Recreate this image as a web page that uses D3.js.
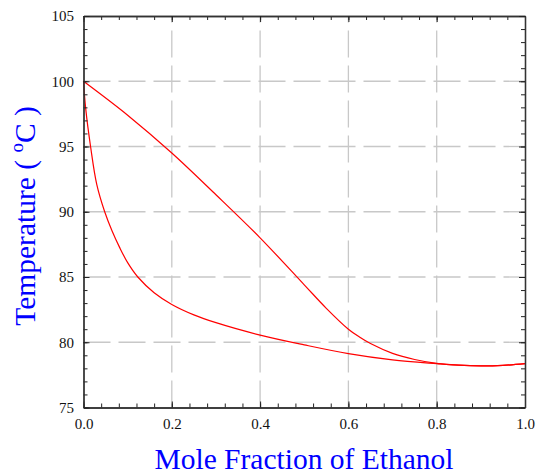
<!DOCTYPE html>
<html>
<head>
<meta charset="utf-8">
<script src="https://cdn.jsdelivr.net/npm/d3@7"></script>
<style>
  html, body { margin: 0; padding: 0; background: #ffffff; }
  svg { display: block; }
  svg text { font-family: "Liberation Serif", "Times New Roman", Times, "DejaVu Serif", serif; }
</style>
</head>
<body>
<script>
// ---- data ----
const xTicks = [0.0, 0.2, 0.4, 0.6, 0.8, 1.0];
const yTicks = [75, 80, 85, 90, 95, 100, 105];
const xTickLabels = ["0.0", "0.2", "0.4", "0.6", "0.8", "1.0"];
const yTickLabels = ["75", "80", "85", "90", "95", "100", "105"];

// bubble-point (liquid) curve
const liquidX = [0.0, 0.005, 0.016, 0.03, 0.048, 0.065, 0.082, 0.1, 0.123, 0.16, 0.2, 0.25, 0.3, 0.4, 0.5, 0.6, 0.7, 0.8, 0.85, 0.9, 0.95, 1.0];
const liquidT = [100.0, 97.9, 95.0, 92.1, 90.0, 88.5, 87.25, 86.1, 85.0, 83.8, 82.9, 82.1, 81.5, 80.55, 79.8, 79.13, 78.65, 78.36, 78.24, 78.19, 78.23, 78.36];

// dew-point (vapour) curve
const vaporX = [0.0, 0.1, 0.2, 0.3, 0.4, 0.5, 0.55, 0.6, 0.625, 0.65, 0.7, 0.75, 0.8, 0.85, 0.9, 0.95, 1.0];
const vaporT = [100.0, 97.4, 94.5, 91.3, 88.0, 84.4, 82.6, 81.0, 80.4, 79.9, 79.15, 78.68, 78.38, 78.24, 78.19, 78.23, 78.36];

const xLabel = "Mole Fraction of Ethanol";

// ---- layout ----
const W = 536, H = 474;
const mLeft = 83.5, mRight = 525, mTop = 16, mBottom = 407.5;

const svg = d3.select("body").append("svg").attr("width", W).attr("height", H);

const x = d3.scaleLinear().domain([0, 1]).range([mLeft, mRight]);
const y = d3.scaleLinear().domain([75, 105]).range([mBottom, mTop]);

// grid
const grid = svg.append("g").attr("stroke", "#c8c8c8").attr("stroke-width", 1.3)
  .attr("stroke-dasharray", "27,8").attr("fill", "none");
xTicks.slice(1, -1).forEach(t => {
  grid.append("line").attr("x1", x(t)).attr("x2", x(t)).attr("y1", mBottom).attr("y2", mTop);
});
yTicks.slice(1, -1).forEach(t => {
  grid.append("line").attr("x1", mLeft).attr("x2", mRight).attr("y1", y(t)).attr("y2", y(t));
});

// curves
const line = d3.line().curve(d3.curveCatmullRom.alpha(0.5));
const liquid = liquidX.map((v, i) => [x(v), y(liquidT[i])]);
const vapor = vaporX.map((v, i) => [x(v), y(vaporT[i])]);
svg.append("path").attr("d", line(liquid)).attr("fill", "none").attr("stroke", "#ff0000").attr("stroke-width", 1.2);
svg.append("path").attr("d", line(vapor)).attr("fill", "none").attr("stroke", "#ff0000").attr("stroke-width", 1.2);

// axes (ticks inward) on all four sides
const xMinor = d3.range(0, 1.0001, 0.04);
const yMinor = d3.range(75, 105.001, 1);

function styleAxis(g) {
  g.selectAll(".domain").attr("stroke", "#333").attr("stroke-width", 1.3);
  g.selectAll(".tick line").attr("stroke", "#222").attr("stroke-width", 1);
  g.selectAll("text").attr("font-family", null)
    .attr("font-size", 15).attr("fill", "#111");
}

const xB = svg.append("g").attr("transform", `translate(0,${mBottom})`)
  .call(d3.axisBottom(x).tickValues(xMinor).tickSizeInner(-4).tickSizeOuter(0).tickFormat(() => ""));
styleAxis(xB);
const xB2 = svg.append("g").attr("transform", `translate(0,${mBottom})`)
  .call(d3.axisBottom(x).tickValues(xTicks).tickSizeInner(-6).tickSizeOuter(0)
    .tickFormat((d, i) => xTickLabels[i]));
styleAxis(xB2);
xB2.selectAll("text").attr("dy", null).attr("y", 21);

const xT = svg.append("g").attr("transform", `translate(0,${mTop})`)
  .call(d3.axisTop(x).tickValues(xMinor).tickSizeInner(-4).tickSizeOuter(0).tickFormat(() => ""));
styleAxis(xT);
const xT2 = svg.append("g").attr("transform", `translate(0,${mTop})`)
  .call(d3.axisTop(x).tickValues(xTicks).tickSizeInner(-6).tickSizeOuter(0).tickFormat(() => ""));
styleAxis(xT2);

const yL = svg.append("g").attr("transform", `translate(${mLeft},0)`)
  .call(d3.axisLeft(y).tickValues(yMinor).tickSizeInner(-4).tickSizeOuter(0).tickFormat(() => ""));
styleAxis(yL);
const yL2 = svg.append("g").attr("transform", `translate(${mLeft},0)`)
  .call(d3.axisLeft(y).tickValues(yTicks).tickSizeInner(-6).tickSizeOuter(0)
    .tickFormat((d, i) => yTickLabels[i]));
styleAxis(yL2);
yL2.selectAll("text").attr("x", -9.5);

const yR = svg.append("g").attr("transform", `translate(${mRight},0)`)
  .call(d3.axisRight(y).tickValues(yMinor).tickSizeInner(-4).tickSizeOuter(0).tickFormat(() => ""));
styleAxis(yR);
const yR2 = svg.append("g").attr("transform", `translate(${mRight},0)`)
  .call(d3.axisRight(y).tickValues(yTicks).tickSizeInner(-6).tickSizeOuter(0).tickFormat(() => ""));
styleAxis(yR2);

// axis titles
svg.append("text")
  .attr("x", 304).attr("y", 469)
  .attr("text-anchor", "middle")
  .attr("font-size", 29.5).attr("fill", "#0000ff")
  .text(xLabel);

const yt = svg.append("text")
  .attr("transform", `translate(35,216) rotate(-90)`)
  .attr("text-anchor", "middle")
  .attr("font-size", 29.5).attr("fill", "#0000ff")
  .attr("xml:space", "preserve");
yt.append("tspan").text("Temperature ( ");
yt.append("tspan").attr("font-size", 19).attr("dy", -12).text("o");
yt.append("tspan").attr("dy", 12).text("C )");
</script>
</body>
</html>
